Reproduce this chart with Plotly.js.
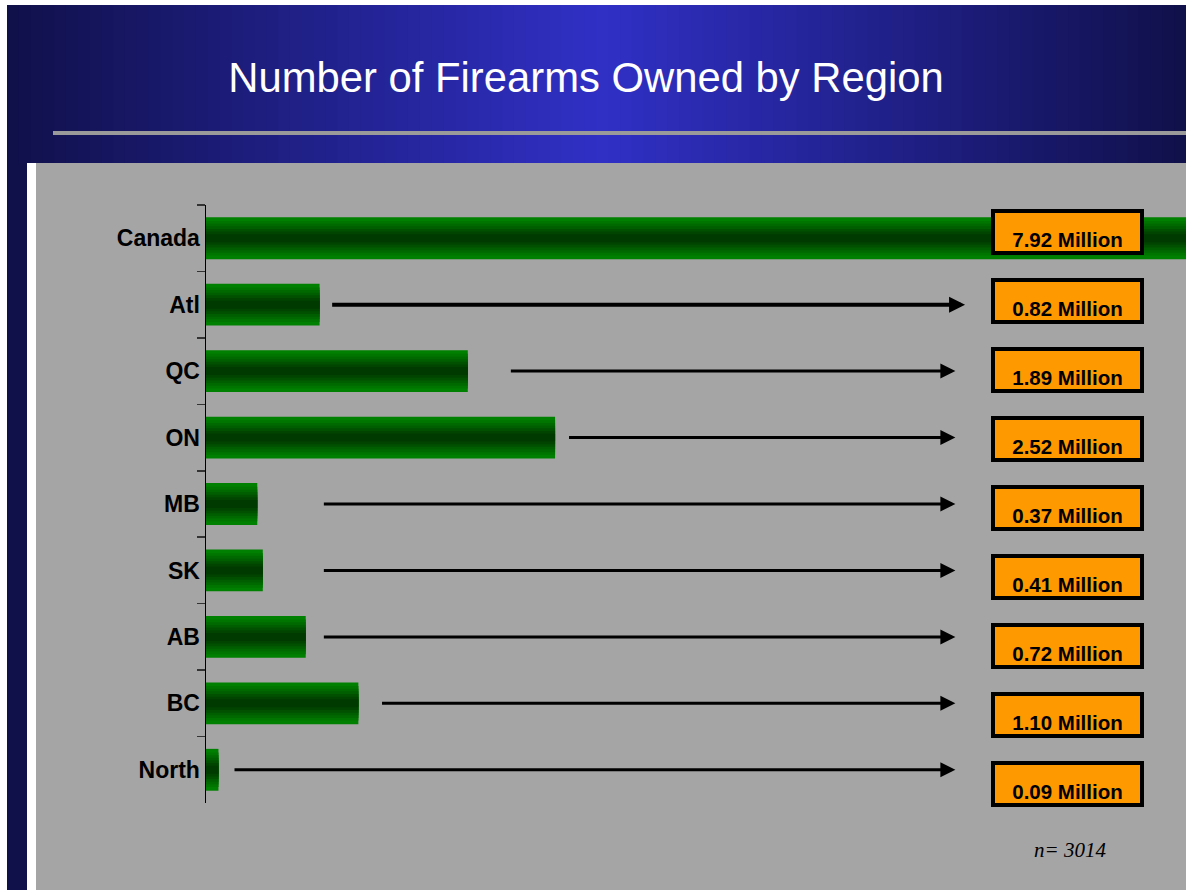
<!DOCTYPE html>
<html>
<head>
<meta charset="utf-8">
<script src="https://cdn.plot.ly/plotly-3.0.1.min.js"></script>
<style>
html,body{margin:0;padding:0;background:#ffffff;}
#chart{width:1186px;height:890px;}
</style>
</head>
<body>
<div id="chart"></div>
<script>
// ---- data ----
const regions = ["Canada", "Atl", "QC", "ON", "MB", "SK", "AB", "BC", "North"];
const firearmsMillions = [7.92, 0.82, 1.89, 2.52, 0.37, 0.41, 0.72, 1.10, 0.09];
const valueLabels = ["7.92 Million", "0.82 Million", "1.89 Million", "2.52 Million", "0.37 Million",
                     "0.41 Million", "0.72 Million", "1.10 Million", "0.09 Million"];
const chartTitle = "Number of Firearms Owned by Region";
const sampleNote = "n= 3014";

// ---- layout geometry (pixels) ----
const W = 1186, H = 890;
const M = {l: 206, r: 0, t: 205, b: 87};
const PW = W - M.l - M.r, PH = H - M.t - M.b;
const px2x = p => (p - M.l) / PW;
const py2y = p => (H - M.b - p) / PH;
const xMax = 7.075;

// banded "gradient" bars: overlaid bars of decreasing thickness
const bandWidths = [0.63, 0.52, 0.44, 0.36, 0.28, 0.20, 0.12];
const bandColors = ["#008000", "#007600", "#006a00", "#005e00", "#005000", "#004400", "#003a00"];
const traces = bandWidths.map((w, i) => ({
  type: "bar",
  orientation: "h",
  x: firearmsMillions,
  y: regions,
  width: w,
  marker: {color: bandColors[i], line: {width: 0}},
  hoverinfo: "skip",
  showlegend: false
}));

// decorative background shapes
const shapes = [];
const rect = (x0, y0, x1, y1, c) => shapes.push({
  type: "rect", xref: "paper", yref: "paper", layer: "below",
  x0: px2x(x0), x1: px2x(x1), y0: py2y(y1), y1: py2y(y0),
  fillcolor: c, line: {width: 0}
});
rect(36, 163, W + 2, H + 2, "#a5a5a5");
rect(7, 163, 27, H + 2, "#10104a");
// header gradient
const c0 = [16, 16, 74], c1 = [48, 48, 198];
const N = 100, hx0 = 7, hx1 = W, mid = 600;
for (let k = 0; k < N; k++) {
  const a = hx0 + (hx1 - hx0) * k / N;
  const b = k === N - 1 ? hx1 + 2 : hx0 + (hx1 - hx0) * (k + 1) / N + 3;
  const cx = hx0 + (hx1 - hx0) * (k + 0.5) / N;
  const t = cx < mid ? (cx - hx0) / (mid - hx0) : 1 - (cx - mid) / (hx1 - mid);
  const c = c0.map((v, j) => Math.round(v + (c1[j] - v) * Math.max(0, Math.min(1, t))));
  rect(a, 5, b, 163, `rgb(${c[0]},${c[1]},${c[2]})`);
}
rect(53, 131, W + 2, 135, "#9a9a9a");

// arrows and value boxes
const arrowStart = [null, 0.90, 2.19, 2.61, 0.84, 0.84, 0.84, 1.26, 0.195];
const arrowEnd = [null, 5.48, 5.41, 5.41, 5.41, 5.41, 5.41, 5.41, 5.41];
const annotations = [];
regions.forEach((r, i) => {
  if (arrowStart[i] !== null) {
    annotations.push({
      x: arrowEnd[i], y: r, xref: "x", yref: "y",
      ax: arrowStart[i], ay: r, axref: "x", ayref: "y",
      text: "", showarrow: true, arrowhead: 2, arrowsize: i === 1 ? 0.8 : 1,
      arrowwidth: i === 1 ? 4 : 3, arrowcolor: "#000000", standoff: 0, startstandoff: 0
    });
  }
  annotations.push({
    x: 6.22, xref: "x",
    y: py2y(232 + 69 * i), yref: "paper",
    text: "<b>" + valueLabels[i] + "</b>", showarrow: false,
    font: {family: "Liberation Sans, Arial, sans-serif", size: 20.5, color: "#000000"},
    bgcolor: "#ff9900", bordercolor: "#000000", borderwidth: 4, borderpad: 0,
    width: 145, height: 38, valign: "bottom", align: "center",
    xanchor: "center", yanchor: "middle"
  });
});
annotations.push({
  x: px2x(1070), y: py2y(850), xref: "paper", yref: "paper",
  text: "<i>" + sampleNote + "</i>", showarrow: false,
  font: {family: "Liberation Serif, Times New Roman, serif", size: 21, color: "#000000"},
  xanchor: "center", yanchor: "middle"
});

const layout = {
  width: W, height: H,
  margin: M,
  paper_bgcolor: "#ffffff",
  plot_bgcolor: "rgba(0,0,0,0)",
  barmode: "overlay",
  showlegend: false,
  title: {
    text: chartTitle,
    font: {family: "Liberation Sans, Arial, sans-serif", size: 41.8, color: "#ffffff"},
    x: 586 / W, xanchor: "center", xref: "container",
    y: 1 - 77 / H, yanchor: "middle", yref: "container"
  },
  xaxis: {
    range: [0, xMax], visible: false, fixedrange: true
  },
  yaxis: {
    type: "category",
    categoryorder: "array", categoryarray: regions,
    autorange: "reversed",
    showline: true, linecolor: "#000000", linewidth: 1.5,
    ticks: "outside", tickson: "boundaries", ticklen: 8, tickcolor: "#333333", tickwidth: 1.5,
    tickfont: {family: "Liberation Sans, Arial, sans-serif", size: 23, color: "#000000", weight: "bold"},
    showgrid: false, zeroline: false, fixedrange: true
  },
  shapes: shapes,
  annotations: annotations
};

Plotly.newPlot("chart", traces, layout, {displayModeBar: false, staticPlot: true});
</script>
</body>
</html>
